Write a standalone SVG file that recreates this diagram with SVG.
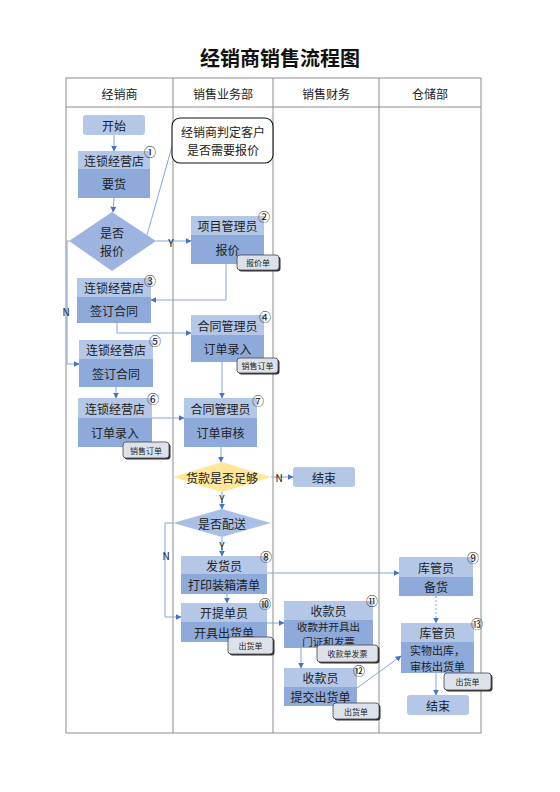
<svg xmlns="http://www.w3.org/2000/svg" width="560" height="792" viewBox="0 0 560 792">
<defs>
<marker id="ah" viewBox="0 0 10 10" refX="9" refY="5" markerWidth="6" markerHeight="6" orient="auto" markerUnits="userSpaceOnUse">
<path d="M0,0 L10,5 L0,10 z" fill="#4472c4"/>
</marker>
<style>
text{font-family:"Noto Sans CJK SC","Liberation Sans",sans-serif;fill:#222;text-anchor:middle;dominant-baseline:central}
.hd{fill:#b4c7e7}
.bd{fill:#8eaadb}
.t{font-size:12px}
.s2{font-size:11px}
.s3{font-size:10.5px}
.h{font-size:12px}
.num{font-size:12px;fill:#111}
.tag rect.s{fill:#333}
.tag rect.m{fill:#dde2ea;stroke:#444;stroke-width:0.8}
.tag text{font-size:8px}
.c{fill:none;stroke:#86a5dd;stroke-width:1}
.ca{fill:none;stroke:#86a5dd;stroke-width:1;marker-end:url(#ah)}
.grid{fill:none;stroke:#8c8c8c;stroke-width:1}
.lbl{font-size:10px;fill:#111}
.term{fill:#b4c7e7}
</style>
</defs>
<rect width="560" height="792" fill="#fff"/>
<text x="280" y="57" style="font-size:20px;font-weight:bold;fill:#111">经销商销售流程图</text>
<g id="table">
<rect class="grid" x="66" y="78" width="415" height="655"/>
<line class="grid" x1="66" y1="107" x2="481" y2="107"/>
<line class="grid" x1="173" y1="78" x2="173" y2="733"/>
<line class="grid" x1="273" y1="78" x2="273" y2="733"/>
<line class="grid" x1="379" y1="78" x2="379" y2="733"/>
<text class="h" x="119.5" y="93">经销商</text>
<text class="h" x="223" y="93">销售业务部</text>
<text class="h" x="326" y="93">销售财务</text>
<text class="h" x="430" y="93">仓储部</text>
</g>
<g id="connectors">
<line class="ca" x1="114" y1="135" x2="114" y2="151"/>
<line class="ca" x1="114" y1="198" x2="113" y2="212"/>
<line class="c" x1="173" y1="143" x2="147" y2="235"/>
<line class="ca" x1="156" y1="241" x2="191" y2="241"/>
<polyline class="ca" points="69,241 67,241 67,364 79,364"/>
<polyline class="ca" points="226,264 226,300 151,300"/>
<polyline class="ca" points="117,323 117,333 191,333"/>
<line class="ca" x1="116" y1="387" x2="116" y2="398"/>
<line class="ca" x1="152" y1="418" x2="184" y2="418"/>
<line class="ca" x1="222" y1="362" x2="222" y2="398"/>
<line class="ca" x1="221" y1="447" x2="221" y2="462"/>
<line class="ca" x1="271" y1="477" x2="293" y2="477"/>
<line class="ca" x1="222" y1="492" x2="222" y2="509"/>
<line class="ca" x1="222" y1="537" x2="222" y2="556"/>
<polyline class="ca" points="173,523 165,523 165,617 181,617"/>
<line class="ca" x1="267" y1="573" x2="399" y2="573"/>
<line class="ca" x1="227" y1="594" x2="227" y2="603"/>
<line class="ca" x1="267" y1="623" x2="284" y2="623"/>
<line class="ca" x1="301" y1="648" x2="301" y2="668"/>
<line class="ca" x1="357" y1="688" x2="401" y2="656"/>
<line class="ca" x1="436" y1="596" x2="436" y2="623" stroke-dasharray="2,2"/>
<line class="ca" x1="436" y1="673" x2="436" y2="695"/>
<text class="lbl" x="171" y="242">Y</text>
<text class="lbl" x="66" y="311">N</text>
<text class="lbl" x="279" y="477">N</text>
<text class="lbl" x="222" y="498">Y</text>
<text class="lbl" x="222" y="545">Y</text>
<text class="lbl" x="166" y="555">N</text>
</g>
<g id="start">
<rect class="term" x="83" y="115" width="62" height="20" rx="3"/>
<text class="t" x="114" y="125">开始</text>
</g>
<g id="note">
<rect x="172" y="118" width="101" height="45" rx="8" fill="#fff" stroke="#111" stroke-width="1.1"/>
<text class="t" x="223" y="131.5">经销商判定客户</text>
<text class="t" x="223" y="149">是否需要报价</text>
</g>
<g id="n1">
<rect class="hd" x="78" y="151" width="72" height="18"/>
<rect class="bd" x="78" y="169" width="72" height="29"/>
<text class="t" x="114" y="160">连锁经营店</text>
<text class="t" x="114" y="183.5">要货</text>
<text class="num" x="150" y="151">①</text>
</g>
<g id="d1">
<polygon points="112,212 156,241 112,271 69,241" fill="#9db4e1"/>
<text class="t" x="112" y="232">是否</text>
<text class="t" x="112" y="250">报价</text>
</g>
<g id="n2">
<rect class="hd" x="191" y="216" width="73" height="19"/>
<rect class="bd" x="191" y="235" width="73" height="29"/>
<text class="t" x="227.5" y="225.5">项目管理员</text>
<text class="t" x="227.5" y="249.5">报价</text>
<text class="num" x="264" y="216">②</text>
<g class="tag"><rect class="s" x="238.5" y="256.5" width="42" height="15" rx="3"/><rect class="m" x="237" y="255" width="42" height="15" rx="3"/><text x="258" y="262.5">报价单</text></g>
</g>
<g id="n3">
<rect class="hd" x="77" y="278" width="74" height="19"/>
<rect class="bd" x="77" y="297" width="74" height="26"/>
<text class="t" x="114" y="287.5">连锁经营店</text>
<text class="t" x="114" y="310">签订合同</text>
<text class="num" x="150" y="280">③</text>
</g>
<g id="n4">
<rect class="hd" x="191" y="315" width="73" height="20"/>
<rect class="bd" x="191" y="335" width="73" height="27"/>
<text class="t" x="227.5" y="325">合同管理员</text>
<text class="t" x="227.5" y="348.5">订单录入</text>
<text class="num" x="265" y="316">④</text>
<g class="tag"><rect class="s" x="238.5" y="359.5" width="41" height="15" rx="3"/><rect class="m" x="237" y="358" width="41" height="15" rx="3"/><text x="257.5" y="365.5">销售订单</text></g>
</g>
<g id="n5">
<rect class="hd" x="79" y="340" width="74" height="19"/>
<rect class="bd" x="79" y="359" width="74" height="28"/>
<text class="t" x="116" y="349.5">连锁经营店</text>
<text class="t" x="116" y="373">签订合同</text>
<text class="num" x="155" y="340">⑤</text>
</g>
<g id="n6">
<rect class="hd" x="78" y="398" width="74" height="20"/>
<rect class="bd" x="78" y="418" width="74" height="29"/>
<text class="t" x="115" y="408">连锁经营店</text>
<text class="t" x="115" y="432.5">订单录入</text>
<text class="num" x="153" y="398">⑥</text>
<g class="tag"><rect class="s" x="124.5" y="443.5" width="46" height="16" rx="3"/><rect class="m" x="123" y="442" width="46" height="16" rx="3"/><text x="146" y="450">销售订单</text></g>
</g>
<g id="n7">
<rect class="hd" x="184" y="398" width="73" height="20"/>
<rect class="bd" x="184" y="418" width="73" height="29"/>
<text class="t" x="220.5" y="408">合同管理员</text>
<text class="t" x="220.5" y="432.5">订单审核</text>
<text class="num" x="258" y="400">⑦</text>
</g>
<g id="d3">
<polygon points="222,462 271,477 222,492 173,477" fill="#ffe699"/>
<text class="t" x="222" y="477">货款是否足够</text>
</g>
<g id="end1">
<rect class="term" x="293" y="467" width="62" height="20" rx="3"/>
<text class="t" x="324" y="477">结束</text>
</g>
<g id="d4">
<polygon points="222,509 271,523 222,537 173,523" fill="#a9bfe6"/>
<text class="t" x="222" y="523">是否配送</text>
</g>
<g id="n8">
<rect class="hd" x="181" y="556" width="86" height="18"/>
<rect class="bd" x="181" y="574" width="86" height="20"/>
<text class="t" x="224" y="565">发货员</text>
<text class="t" x="224" y="584">打印装箱清单</text>
<text class="num" x="266" y="556">⑧</text>
</g>
<g id="n9">
<rect class="hd" x="399" y="557" width="74" height="20"/>
<rect class="bd" x="399" y="577" width="74" height="19"/>
<text class="t" x="436" y="567">库管员</text>
<text class="t" x="436" y="586.5">备货</text>
<text class="num" x="473" y="557">⑨</text>
</g>
<g id="n10">
<rect class="hd" x="181" y="603" width="86" height="19"/>
<rect class="bd" x="181" y="622" width="86" height="20"/>
<text class="t" x="224" y="612.5">开提单员</text>
<text class="t" x="224" y="632">开具出货单</text>
<text class="num" x="265" y="603">⑩</text>
<g class="tag"><rect class="s" x="229.5" y="638.5" width="45" height="17" rx="3"/><rect class="m" x="228" y="637" width="45" height="17" rx="3"/><text x="250.5" y="645.5">出货单</text></g>
</g>
<g id="n11">
<rect class="hd" x="284" y="601" width="89" height="19"/>
<rect class="bd" x="284" y="620" width="89" height="28"/>
<text class="t" x="328.5" y="610.5">收款员</text>
<text class="s3" x="328.5" y="626">收款并开具出</text>
<text class="s3" x="328.5" y="641.5">门证和发票</text>
<text class="num" x="372" y="600">⑪</text>
<g class="tag"><rect class="s" x="318.5" y="646.5" width="61" height="17" rx="3"/><rect class="m" x="317" y="645" width="61" height="17" rx="3"/><text x="347.5" y="653.5">收款单发票</text></g>
</g>
<g id="n12">
<rect class="hd" x="284" y="668" width="73" height="19"/>
<rect class="bd" x="284" y="687" width="73" height="19"/>
<text class="t" x="320.5" y="677.5">收款员</text>
<text class="t" x="320.5" y="696.5">提交出货单</text>
<text class="num" x="359" y="670">⑫</text>
<g class="tag"><rect class="s" x="334.5" y="704.5" width="46" height="16" rx="3"/><rect class="m" x="333" y="703" width="46" height="16" rx="3"/><text x="356" y="711">出货单</text></g>
</g>
<g id="n13">
<rect class="hd" x="401" y="623" width="73" height="19"/>
<rect class="bd" x="401" y="642" width="73" height="31"/>
<text class="t" x="437.5" y="632.5">库管员</text>
<text class="s2" x="437.5" y="649.5">实物出库，</text>
<text class="s2" x="437.5" y="665.5">审核出货单</text>
<text class="num" x="477" y="623">⑬</text>
<g class="tag"><rect class="s" x="445.5" y="674.5" width="47" height="17" rx="3"/><rect class="m" x="444" y="673" width="47" height="17" rx="3"/><text x="467.5" y="681.5">出货单</text></g>
</g>
<g id="end2">
<rect class="term" x="407" y="695" width="62" height="20" rx="3"/>
<text class="t" x="438" y="705">结束</text>
</g>
</svg>
